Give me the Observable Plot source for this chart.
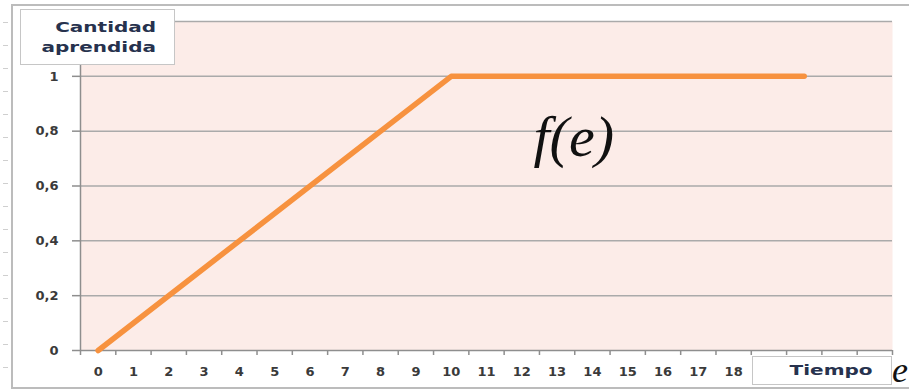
<!DOCTYPE html>
<html><head><meta charset="utf-8">
<script src="https://cdn.jsdelivr.net/npm/d3@7"></script>
<script src="https://cdn.jsdelivr.net/npm/@observablehq/plot@0.6"></script>
<style>
body{margin:0;background:#fff;}
#wrap{position:relative;width:909px;height:390px;overflow:hidden;background:#fff;font-family:"DejaVu Sans",sans-serif;}
#wrap svg{position:absolute;left:0;top:0;}
.frame{position:absolute;left:11px;top:4px;width:898px;height:385px;border-left:2px solid #bcbcbc;border-top:2px solid #bcbcbc;border-bottom:2px solid #bcbcbc;box-sizing:border-box;pointer-events:none;}
.ruler{position:absolute;left:3px;top:0;width:5px;height:390px;background:repeating-linear-gradient(to bottom, transparent 0 22px, #cfcfcf 22px 23px);}
.box{position:absolute;background:#fff;border:1.5px solid #c6c6c6;box-sizing:border-box;color:#27324e;font-weight:bold;font-size:14.5px;}
.ylab{left:20px;top:9px;width:155px;height:56px;text-align:right;padding:7px 18px 0 0;line-height:20px;}
.ylab span{display:inline-block;transform:scaleX(1.38);transform-origin:right center;}
.xlab{left:752px;top:356px;width:140px;height:29px;text-align:center;line-height:27px;padding-left:18px;}
.xlab span{display:inline-block;transform:scaleX(1.38);transform-origin:center center;}
.evar{position:absolute;left:892px;top:352px;font-family:"Liberation Serif","Times New Roman",Times,serif;font-style:italic;font-size:36px;line-height:1;color:#111;}
</style>
</head><body>
<div id="wrap">
  <div class="ruler"></div>
  <div class="frame"></div>
</div>
<script>
// Data
const tiempo = [0, 10, 20];
const cantidad = [0, 1, 1];
const yTicks = [0, 0.2, 0.4, 0.6, 0.8, 1];
const yGrid = [0.2, 0.4, 0.6, 0.8, 1, 1.2];
const xLabels = d3.range(0, 19);           // 0 … 18 visible labels
const xBoundaries = d3.range(-0.5, 23, 1); // category tick marks
const yTitle = ["Cantidad", "aprendida"];
const xTitle = "Tiempo";
const fnLabel = [{x: 12.33, y: 0.777, t: "f(e)"}];

const rows = tiempo.map((t, i) => ({t, v: cantidad[i]}));
const tickStyle = {fontWeight: "bold", fill: "#3a3a3a", letterSpacing: "2px"};

const chart = Plot.plot({
  width: 909, height: 390,
  marginLeft: 80, marginRight: 17, marginTop: 21, marginBottom: 40,
  style: {fontFamily: "DejaVu Sans", fontSize: "13px", background: "transparent", overflow: "visible"},
  x: {domain: [-0.5, 22.5]},
  y: {domain: [0, 1.2]},
  marks: [
    Plot.frame({fill: "#fcece8", stroke: "none"}),
    Plot.ruleY(yGrid, {stroke: "#aaaaaa", strokeWidth: 1.5}),
    Plot.ruleX([-0.5], {stroke: "#8e8e8e", strokeWidth: 1.5}),
    Plot.ruleY([0], {stroke: "#8e8e8e", strokeWidth: 1.5}),
    Plot.axisY({ticks: yTicks, tickSize: 8, tickPadding: 14, stroke: "#8e8e8e", strokeWidth: 1.5,
      tickFormat: d => String(d).replace(".", ","), label: null, ...tickStyle}),
    Plot.axisX({ticks: xBoundaries, tickSize: 5, stroke: "#8e8e8e", strokeWidth: 1.5, tickFormat: () => "", label: null}),
    Plot.axisX({ticks: xLabels, tickSize: 0, tickPadding: 16, tickFormat: d => String(d), label: null, ...tickStyle}),
    Plot.line(rows, {x: "t", y: "v", stroke: "#f7923f", strokeWidth: 5.5, strokeLinecap: "round", strokeLinejoin: "round"}),
    Plot.text(fnLabel, {x: "x", y: "y", text: "t", textAnchor: "start",
      fontFamily: "'Liberation Serif', 'Times New Roman', Times, serif",
      fontStyle: "italic", fontSize: 58, fill: "#111"})
  ]
});
const wrap = document.getElementById("wrap");
wrap.insertBefore(chart, wrap.querySelector(".frame"));

const yl = document.createElement("div");
yl.className = "box ylab";
yl.innerHTML = yTitle.map(s => `<span>${s}</span>`).join("<br>");
wrap.appendChild(yl);

const xl = document.createElement("div");
xl.className = "box xlab";
xl.innerHTML = `<span>${xTitle}</span>`;
wrap.appendChild(xl);

const ev = document.createElement("div");
ev.className = "evar";
ev.textContent = "e";
wrap.appendChild(ev);
</script>
</body></html>
